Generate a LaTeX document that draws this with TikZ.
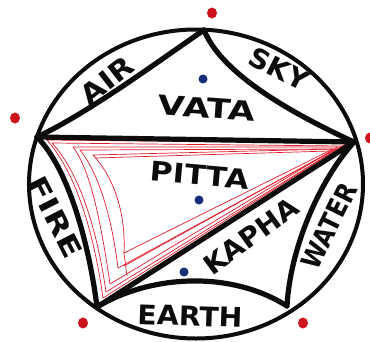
\documentclass[tikz,border=0pt]{standalone}
\usepackage{fontspec}
\usepackage{graphicx}
\usetikzlibrary{shapes.geometric}
\newfontfamily\hand{DejaVu Sans}
\newcommand\hw[2]{\scalebox{#1}[1]{#2}}
\definecolor{ink}{RGB}{12,12,12}
\definecolor{redpen}{RGB}{222,30,45}
\definecolor{dotred}{RGB}{205,20,30}
\definecolor{dotblue}{RGB}{20,45,120}
\begin{document}
\begin{tikzpicture}[x=1pt,y=-1pt,
  rim/.style={draw=ink,line width=4pt,ellipse,inner sep=0pt},
  edge/.style={draw=ink,line width=5.2pt,line cap=round,line join=round},
  hatch/.style={draw=redpen,line width=0.7pt,line join=round},
  lbl/.style={text=ink,font=\hand\bfseries\fontsize{27}{27}\selectfont,inner sep=0pt},
  rdot/.style={fill=dotred,ellipse,minimum width=10pt,minimum height=11pt,inner sep=0pt},
  bdot/.style={fill=dotblue,circle,minimum size=9pt,inner sep=0pt}]
\useasboundingbox (0,0) rectangle (370,341);
\fill[white] (0,0) rectangle (370,341);
% outer circle
\node[rim,minimum width=334pt,minimum height=309pt] (rim) at (196,184) {};
% vertices
\coordinate (vT) at (204,30);
\coordinate (vL) at (37,137);
\coordinate (vR) at (354,142);
\coordinate (vBL) at (97,307);
\coordinate (vBR) at (287,306);
% red hatching inside the pitta triangle
\draw[hatch] (47,140) -- (347,143) -- (103,298) .. controls (95,240) and (78,175) .. cycle;
\draw[hatch] (52,143) -- (342,146) -- (106,292) .. controls (98,236) and (82,176) .. cycle;
\draw[hatch] (73,147) -- (338,147) -- (110,284) .. controls (102,230) and (92,172) .. cycle;
\draw[hatch] (80,150) -- (336,149) -- (118,268) .. controls (112,220) and (100,175) .. cycle;
\draw[hatch] (93,155) -- (333,149) -- (124,253) .. controls (126,210) and (112,175) .. cycle;
\draw[hatch] (124,253) -- (127,276);
\draw[hatch] (124,266) -- (330,152);
\draw[hatch] (95,158) -- (330,151);
% black division lines
\draw[edge] (vL) -- (vR);
\draw[edge] (vBL) -- (vR);
\draw[edge] (vT) .. controls (160,60) and (90,112) .. (vL);
\draw[edge] (vT) .. controls (220,70) and (280,108) .. (vR);
\draw[edge] (vL) .. controls (70,170) and (90,250) .. (vBL);
\draw[edge] (vBL) .. controls (150,275) and (230,270) .. (vBR);
\draw[edge] (vBR) .. controls (290,250) and (318,182) .. (vR);
% labels
\node[lbl,rotate=38] (air) at (107,80) {\hw{1.15}{AIR}};
\node[lbl,rotate=-27] (sky) at (279,69) {\hw{1.05}{SKY}};
\node[lbl,rotate=-4] (vata) at (207,108) {\hw{1.3}{VATA}};
\node[lbl,rotate=-5] (pitta) at (200,175) {\hw{1.15}{PITTA}};
\node[lbl,rotate=36] (kapha) at (251,236) {\hw{1.05}{KAPHA}};
\node[lbl,rotate=64] (water) at (329,226) {\hw{0.88}{WATER}};
\node[lbl,rotate=-2] (earth) at (190,316) {\hw{1.05}{EARTH}};
\node[lbl,rotate=-63] (fire) at (55,217) {\hw{1.3}{FIRE}};
% dots
\node[bdot] (b1) at (203,79) {};
\node[bdot] (b2) at (199,200) {};
\node[bdot] (b3) at (184,272) {};
\node[rdot] (r1) at (212,13) {};
\node[rdot] (r2) at (15,118) {};
\node[rdot] (r3) at (370,138) {};
\node[rdot] (r4) at (83,323) {};
\node[rdot] (r5) at (303,323) {};
\end{tikzpicture}
\end{document}
